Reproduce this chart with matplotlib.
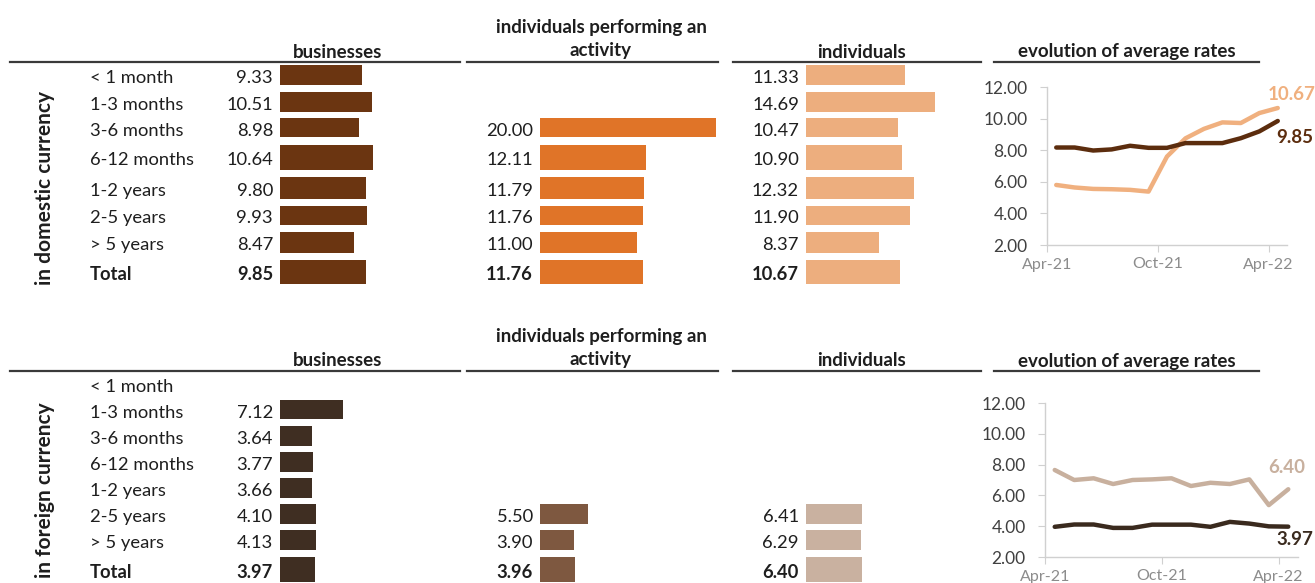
import matplotlib
matplotlib.use("Agg")
import matplotlib.pyplot as plt
from matplotlib.lines import Line2D
import matplotlib.transforms as mtransforms
import numpy as np

plt.rcParams['font.family'] = ['Lato', 'DejaVu Sans']

# ---------------- data ----------------
categories = ["< 1 month", "1-3 months", "3-6 months", "6-12 months",
              "1-2 years", "2-5 years", "> 5 years", "Total"]

dom_business = [9.33, 10.51, 8.98, 10.64, 9.80, 9.93, 8.47, 9.85]
dom_activity = [None, None, 20.00, 12.11, 11.79, 11.76, 11.00, 11.76]
dom_individuals = [11.33, 14.69, 10.47, 10.90, 12.32, 11.90, 8.37, 10.67]

for_business = [None, 7.12, 3.64, 3.77, 3.66, 4.10, 4.13, 3.97]
for_activity = [None, None, None, None, None, 5.50, 3.90, 3.96]
for_individuals = [None, None, None, None, None, 6.41, 6.29, 6.40]

months = ["Apr-21", "May-21", "Jun-21", "Jul-21", "Aug-21", "Sep-21", "Oct-21",
          "Nov-21", "Dec-21", "Jan-22", "Feb-22", "Mar-22", "Apr-22"]
month_tick_labels = ["Apr-21", "Oct-21", "Apr-22"]

dom_rate_business = [8.17, 8.17, 7.98, 8.05, 8.28, 8.15, 8.15, 8.45, 8.45, 8.45, 8.76, 9.19, 9.85]
dom_rate_individuals = [5.80, 5.64, 5.55, 5.53, 5.49, 5.38, 7.60, 8.75, 9.35, 9.76, 9.72, 10.35, 10.67]
for_rate_business = [3.96, 4.11, 4.11, 3.89, 3.89, 4.10, 4.10, 4.10, 3.96, 4.28, 4.17, 3.99, 3.97]
for_rate_individuals = [7.65, 7.00, 7.11, 6.74, 7.00, 7.04, 7.11, 6.61, 6.82, 6.74, 7.04, 5.37, 6.40]

col_headers = ["businesses", "individuals performing an\nactivity", "individuals",
               "evolution of average rates"]
section_titles = ["in domestic currency", "in foreign currency"]

# ---------------- layout / styles ----------------
W, H = 1315, 583
SCALE = 8.78  # pixels per rate unit in data bars
TEXT = '#1e1e1e'
FS = 13.2
HFS = 13.5
dom_colors = ['#6b3511', '#e07428', '#edae7e']
for_colors = ['#3f2e22', '#7e5840', '#c9b1a0']
dom_line_colors = ['#5c2d0e', '#f0b07f']
for_line_colors = ['#3a2a1e', '#c8b09e']

# table row layout (pixel rows of the spreadsheet-like table)
top_rows = [75, 101.7, 127.5, 157, 188, 215.3, 242.3, 271.7]
top_bar_h = [20, 20, 19.5, 25, 22.5, 19.5, 21, 24]
bot_rows = [383.5, 409.7, 435.7, 462, 488, 514, 540, 569]
bot_bar_h = [20, 19.5, 20, 19.5, 19.5, 20, 20, 25]

fig = plt.figure(figsize=(W / 100, H / 100), dpi=100)


def add_px_axes(left, top, width, height):
    return fig.add_axes([left / W, 1 - (top + height) / H, width / W, height / H])


def hline(x0, x1, y):
    fig.add_artist(Line2D([x0 / W, x1 / W], [1 - y / H, 1 - y / H],
                          color='#3a3a3a', lw=1.6, transform=fig.transFigure))


def bar_column(left, width, top, height, values, color, rows_pos, bar_h,
               show_cats=False):
    ax = add_px_axes(left, top, width, height)
    ax.set_xlim(0, width / SCALE)
    ax.set_ylim(top + height, top)
    ax.axis('off')
    idx = [i for i, v in enumerate(values) if v is not None]
    ax.barh([rows_pos[i] for i in idx], [values[i] for i in idx],
            height=[bar_h[i] for i in idx], color=color, edgecolor='none')
    for i in idx:
        bold = categories[i] == "Total"
        ax.annotate(f"{values[i]:.2f}", xy=(0, rows_pos[i]), xytext=(-7, -3),
                    textcoords='offset pixels', ha='right', va='center', fontsize=FS,
                    color=TEXT, fontweight='bold' if bold else 'normal')
    if show_cats:
        tr = mtransforms.blended_transform_factory(fig.transFigure, ax.transData)
        for i, c in enumerate(categories):
            ax.annotate(c, xy=(90 / W, rows_pos[i]), xycoords=tr, xytext=(0, -3),
                        textcoords='offset pixels', ha='left', va='center',
                        fontsize=FS, color=TEXT,
                        fontweight='bold' if c == "Total" else 'normal')
    return ax


def line_panel(left, top, width, height, s_dark, s_light, colors, lab_off_dark,
               lab_off_light):
    ax = add_px_axes(left, top, width, height)
    x = np.arange(len(months))
    ax.plot(x, s_light, color=colors[1], lw=3.2, solid_capstyle='round', zorder=2)
    ax.plot(x, s_dark, color=colors[0], lw=3.2, solid_capstyle='round', zorder=3)
    ax.set_xlim(-0.5, len(months) - 0.5)
    ax.set_ylim(2, 12)
    ax.set_yticks(np.arange(2, 12.1, 2))
    ax.set_yticklabels([f"{t:.2f}" for t in np.arange(2, 12.1, 2)])
    ax.set_xticks([-0.5, 5.5, 11.5])
    ax.set_xticklabels(month_tick_labels)
    for s in ['top', 'right']:
        ax.spines[s].set_visible(False)
    for s in ['left', 'bottom']:
        ax.spines[s].set_color('#d0d0d0')
        ax.spines[s].set_linewidth(1.0)
    ax.tick_params(axis='y', colors='#d0d0d0', labelcolor='#404040', labelsize=12.5,
                   length=5, pad=9)
    ax.tick_params(axis='x', colors='#d0d0d0', labelcolor='#8c8c8c', labelsize=11.5,
                   length=5, pad=4)
    ax.patch.set_alpha(0)
    ax.annotate(f"{s_dark[-1]:.2f}", xy=(x[-1], s_dark[-1]), xytext=lab_off_dark,
                textcoords='offset pixels', ha='center', va='center', fontsize=13.5,
                fontweight='bold', color=colors[0], annotation_clip=False)
    ax.annotate(f"{s_light[-1]:.2f}", xy=(x[-1], s_light[-1]), xytext=lab_off_light,
                textcoords='offset pixels', ha='center', va='center', fontsize=13.5,
                fontweight='bold', color=colors[1], annotation_clip=False)
    return ax


def headers(y_line):
    fig.text(338 / W, 1 - (y_line - 10) / H, col_headers[0], ha='center', va='center',
             fontsize=HFS, fontweight='bold', color=TEXT)
    fig.text(601 / W, 1 - (y_line - 23) / H, col_headers[1], ha='center', va='center',
             fontsize=HFS, fontweight='bold', color=TEXT, linespacing=1.4)
    fig.text(862 / W, 1 - (y_line - 10) / H, col_headers[2], ha='center', va='center',
             fontsize=HFS, fontweight='bold', color=TEXT)
    fig.text(1127 / W, 1 - (y_line - 10) / H, col_headers[3], ha='center', va='center',
             fontsize=HFS, fontweight='bold', color=TEXT)
    hline(10, 460, y_line)
    hline(467, 718, y_line)
    hline(733, 981, y_line)
    hline(994, 1259, y_line)


# ---------------- top section: domestic currency ----------------
headers(62)
top_y, top_h = 61, 225
bar_column(280, 180, top_y, top_h, dom_business, dom_colors[0], top_rows, top_bar_h,
           show_cats=True)
bar_column(540, 180, top_y, top_h, dom_activity, dom_colors[1], top_rows, top_bar_h)
bar_column(806, 174, top_y, top_h, dom_individuals, dom_colors[2], top_rows, top_bar_h)
fig.text(45 / W, 1 - 188 / H, section_titles[0], rotation=90, ha='center', va='center',
         fontsize=15, fontweight='bold', color=TEXT)
line_panel(1047, 87, 240, 158, dom_rate_business, dom_rate_individuals,
           dom_line_colors, (17, -17), (14, 14))

# ---------------- bottom section: foreign currency ----------------
headers(371)
bot_y, bot_h = 372, 211
bar_column(280, 180, bot_y, bot_h, for_business, for_colors[0], bot_rows, bot_bar_h,
           show_cats=True)
bar_column(540, 180, bot_y, bot_h, for_activity, for_colors[1], bot_rows, bot_bar_h)
bar_column(806, 174, bot_y, bot_h, for_individuals, for_colors[2], bot_rows, bot_bar_h)
fig.text(45 / W, 1 - 490 / H, section_titles[1], rotation=90, ha='center', va='center',
         fontsize=15, fontweight='bold', color=TEXT)
line_panel(1045, 403, 253, 154, for_rate_business, for_rate_individuals,
           for_line_colors, (7, -13), (-2, 22))

fig.savefig("out.png", dpi=100, facecolor='white')
